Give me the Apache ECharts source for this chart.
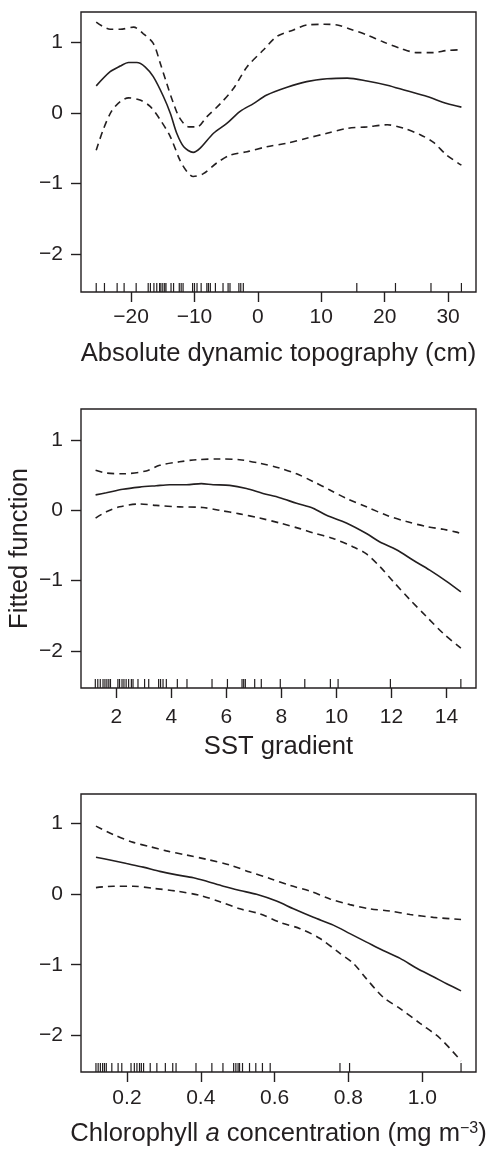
<!DOCTYPE html>
<html>
<head>
<meta charset="utf-8">
<script src="https://cdn.jsdelivr.net/npm/echarts@6/dist/echarts.min.js"></script>
<style>
html,body{margin:0;padding:0;background:#fff;}
#c{width:490px;height:1151px;}
</style>
</head>
<body>
<div id="c"></div>
<script>
// ---------- Panel 1: Absolute dynamic topography ----------
const adtFitX = [-25.5,-23.3,-21.7,-20.4,-19.1,-17.8,-16.5,-14.9,-13.8,-12.8,-11.7,-10.2,-9.1,-7.0,-4.9,-2.8,-0.7,1.4,4.6,7.7,10.9,14.1,17.2,20.4,23.5,26.7,29.8,32.1];
const adtFitY = [0.38,0.58,0.66,0.71,0.71,0.65,0.51,0.23,-0.01,-0.29,-0.48,-0.56,-0.50,-0.29,-0.15,0.02,0.13,0.25,0.36,0.44,0.48,0.49,0.45,0.39,0.31,0.23,0.13,0.08];
const adtUpX = [-25.5,-23.3,-21.7,-19.6,-18.1,-16.5,-15.4,-14.4,-13.3,-12.3,-10.9,-9.6,-8.1,-5.9,-3.8,-1.7,0.9,3.0,5.6,7.7,10.4,12.5,14.6,17.2,19.8,22.5,25.1,27.7,29.8,32.1];
const adtUpY = [1.28,1.18,1.18,1.21,1.12,0.98,0.70,0.42,0.13,-0.08,-0.20,-0.20,-0.06,0.13,0.35,0.65,0.89,1.08,1.17,1.24,1.25,1.24,1.18,1.10,1.00,0.91,0.85,0.85,0.88,0.89];
const adtLoX = [-25.5,-24.4,-23.1,-21.7,-20.4,-18.6,-17.0,-15.4,-13.8,-12.3,-11.2,-10.2,-8.6,-6.5,-4.4,-1.7,1.4,4.6,7.7,10.9,14.1,17.2,20.4,23.0,25.6,27.7,29.8,32.1];
const adtLoY = [-0.53,-0.24,0.02,0.16,0.21,0.18,0.09,-0.10,-0.34,-0.67,-0.83,-0.90,-0.86,-0.71,-0.60,-0.55,-0.48,-0.43,-0.36,-0.29,-0.22,-0.20,-0.17,-0.22,-0.31,-0.42,-0.60,-0.74];
const adtRug = [-25.5,-24.2,-22.2,-21.1,-19.2,-17.3,-16.95,-16.4,-15.95,-15.5,-15.3,-15.0,-14.7,-14.5,-13.7,-13.3,-12.4,-12.1,-11.8,-10.3,-10.0,-9.6,-8.95,-8.05,-7.8,-7.5,-6.7,-5.5,-4.7,-4.4,-3.0,-2.7,-2.3,15.6,21.7,27.3,32.1];
const adtTicks = [-20,-10,0,10,20,30];

// ---------- Panel 2: SST gradient ----------
const sstFitX = [1.25,1.64,2.24,2.85,3.45,3.94,4.55,5.09,5.52,6.12,6.73,7.33,7.94,8.55,9.15,9.64,10.36,11.09,11.58,12.18,12.79,13.39,14.0,14.52];
const sstFitY = [0.22,0.25,0.30,0.33,0.35,0.365,0.365,0.38,0.365,0.355,0.31,0.24,0.18,0.10,0.03,-0.07,-0.18,-0.33,-0.45,-0.56,-0.71,-0.85,-1.01,-1.16];
const sstUpX = [1.25,1.64,2.24,3.09,3.58,4.30,4.91,5.76,6.48,7.21,7.94,8.55,9.15,9.76,10.36,11.09,11.82,12.55,13.27,13.88,14.36,14.52];
const sstUpY = [0.57,0.53,0.52,0.56,0.64,0.69,0.72,0.73,0.72,0.67,0.60,0.52,0.41,0.29,0.17,0.05,-0.07,-0.16,-0.23,-0.27,-0.31,-0.33];
const sstLoX = [1.25,1.64,2.12,2.85,3.45,4.30,5.15,5.76,6.48,7.21,7.94,8.67,9.15,9.88,10.61,11.09,11.58,12.06,12.67,13.27,13.88,14.52];
const sstLoY = [-0.11,-0.02,0.05,0.09,0.07,0.05,0.04,0.00,-0.05,-0.11,-0.18,-0.26,-0.32,-0.40,-0.52,-0.62,-0.80,-1.01,-1.27,-1.51,-1.75,-1.96];
const sstRug = [1.24,1.33,1.42,1.52,1.59,1.66,1.73,1.79,2.06,2.12,2.21,2.28,2.36,2.45,2.55,2.61,2.79,3.03,3.18,3.54,3.61,3.70,3.82,4.22,4.57,5.48,6.04,6.57,6.63,6.69,7.03,7.27,7.96,8.85,9.78,10.06,11.96,14.52];
const sstTicks = [2,4,6,8,10,12,14];

// ---------- Panel 3: Chlorophyll a ----------
const chlFitX = [0.116,0.154,0.199,0.244,0.289,0.335,0.380,0.416,0.461,0.506,0.551,0.605,0.651,0.705,0.759,0.804,0.849,0.894,0.940,0.985,1.030,1.066,1.105];
const chlFitY = [0.52,0.48,0.43,0.38,0.32,0.27,0.23,0.18,0.11,0.05,-0.005,-0.10,-0.21,-0.33,-0.44,-0.56,-0.68,-0.80,-0.91,-1.05,-1.17,-1.27,-1.37];
const chlUpX = [0.116,0.163,0.217,0.262,0.307,0.362,0.416,0.479,0.533,0.587,0.642,0.696,0.750,0.804,0.858,0.912,0.967,1.030,1.105];
const chlUpY = [0.96,0.84,0.73,0.67,0.61,0.55,0.49,0.41,0.31,0.22,0.12,0.04,-0.07,-0.15,-0.21,-0.24,-0.29,-0.33,-0.36];
const chlLoX = [0.116,0.163,0.217,0.271,0.335,0.398,0.452,0.506,0.560,0.614,0.669,0.723,0.777,0.813,0.849,0.894,0.940,0.994,1.048,1.105];
const chlLoY = [0.09,0.11,0.11,0.08,0.04,-0.02,-0.11,-0.21,-0.28,-0.40,-0.49,-0.63,-0.84,-0.98,-1.20,-1.46,-1.62,-1.83,-2.04,-2.36];
const chlRug = [0.116,0.122,0.128,0.134,0.139,0.144,0.159,0.176,0.186,0.211,0.220,0.227,0.234,0.239,0.245,0.263,0.281,0.304,0.324,0.333,0.387,0.430,0.460,0.489,0.495,0.501,0.505,0.513,0.532,0.549,0.567,0.588,0.777,0.803,1.105];
const chlTicks = [0.2,0.4,0.6,0.8,1.0];

const yTicks = [-2,-1,0,1];
const xTitles = ['Absolute dynamic topography (cm)', 'SST gradient', 'Chlorophyll {i|a} concentration (mg m{sup|\u22123})'];
const yTitle = 'Fitted function';

const INK = '#231f20';
const FONT = 'Liberation Sans';
const TITLE_SIZE = 25.6;
const minus = v => String(v).replace('-', '\u2212');

function zip(xs, ys){ return xs.map((x,i)=>[x, ys[i]]); }

const panels = [
  {top:12, height:280, xmin:-27.9, xmax:34.4, ymin:-2.533, ymax:1.424, ticks:adtTicks, fmt:minus, lblMargin:15, nameGap:49,
   fit:zip(adtFitX,adtFitY), up:zip(adtUpX,adtUpY), lo:zip(adtLoX,adtLoY), rug:adtRug},
  {top:409, height:279, xmin:0.72, xmax:15.07, ymin:-2.526, ymax:1.441, ticks:sstTicks, fmt:minus, lblMargin:19, nameGap:46,
   fit:zip(sstFitX,sstFitY), up:zip(sstUpX,sstUpY), lo:zip(sstLoX,sstLoY), rug:sstRug},
  {top:794, height:278, xmin:0.0755, xmax:1.1455, ymin:-2.517, ymax:1.414, ticks:chlTicks, fmt:v=>Number(v).toFixed(1), lblMargin:16, nameGap:49,
   fit:zip(chlFitX,chlFitY), up:zip(chlUpX,chlUpY), lo:zip(chlLoX,chlLoY), rug:chlRug}
];

const grid=[], xAxis=[], yAxis=[], series=[];
panels.forEach((p,i)=>{
  grid.push({left:81, width:395, top:p.top, height:p.height, show:true, borderColor:INK, borderWidth:1.4,
             backgroundColor:'transparent', containLabel:false, outerBoundsMode:'none'});
  xAxis.push({
    type:'value', gridIndex:i, min:p.xmin, max:p.xmax, position:'bottom',
    axisLine:{show:false, onZero:false}, splitLine:{show:false},
    axisTick:{show:true, inside:false, length:10, customValues:p.ticks, lineStyle:{color:INK, width:1.4}},
    axisLabel:{show:true, customValues:p.ticks, formatter:p.fmt, margin:p.lblMargin, color:INK, fontSize:21, fontFamily:FONT},
    name:xTitles[i], nameLocation:'middle', nameGap:p.nameGap, nameMoveOverlap:false,
    nameTextStyle:{color:INK, fontSize:TITLE_SIZE, fontFamily:FONT,
      rich:{ i:{fontStyle:'italic', fontSize:TITLE_SIZE, fontFamily:FONT, color:INK},
             sup:{fontSize:16, fontFamily:FONT, color:INK, verticalAlign:'top', padding:[0,0,10,0]} }}
  });
  yAxis.push({
    type:'value', gridIndex:i, min:p.ymin, max:p.ymax, position:'left',
    axisLine:{show:false, onZero:false}, splitLine:{show:false},
    axisTick:{show:true, inside:false, length:10, customValues:yTicks, lineStyle:{color:INK, width:1.4}},
    axisLabel:{show:true, customValues:yTicks, formatter:minus, margin:18, color:INK, fontSize:21, fontFamily:FONT},
    name: i===1 ? yTitle : '', nameLocation:'middle', nameGap:48, nameRotate:90, nameMoveOverlap:false,
    nameTextStyle:{color:INK, fontSize:TITLE_SIZE, fontFamily:FONT}
  });
  const lineBase = {type:'line', xAxisIndex:i, yAxisIndex:i, showSymbol:false, symbol:'none', smooth:0.3, silent:true, animation:false};
  series.push(Object.assign({}, lineBase, {data:p.fit, lineStyle:{color:INK, width:1.6, type:'solid'}}));
  series.push(Object.assign({}, lineBase, {data:p.up, lineStyle:{color:INK, width:1.6, type:[7,5]}}));
  series.push(Object.assign({}, lineBase, {data:p.lo, lineStyle:{color:INK, width:1.6, type:[7,5]}}));
  series.push({
    type:'custom', xAxisIndex:i, yAxisIndex:i, silent:true, animation:false,
    data:p.rug.map(v=>[v]),
    encode:{x:0},
    renderItem:(params, api)=>{
      const x = api.coord([api.value(0), p.ymin])[0];
      const cs = params.coordSys;
      const yb = cs.y + cs.height;
      return {type:'line', shape:{x1:x, y1:yb, x2:x, y2:yb-9}, style:{stroke:INK, lineWidth:1.2}};
    }
  });
});

const chart = echarts.init(document.getElementById('c'), null, {renderer:'canvas'});
chart.setOption({animation:false, backgroundColor:'#fff', grid, xAxis, yAxis, series});
</script>
</body>
</html>
